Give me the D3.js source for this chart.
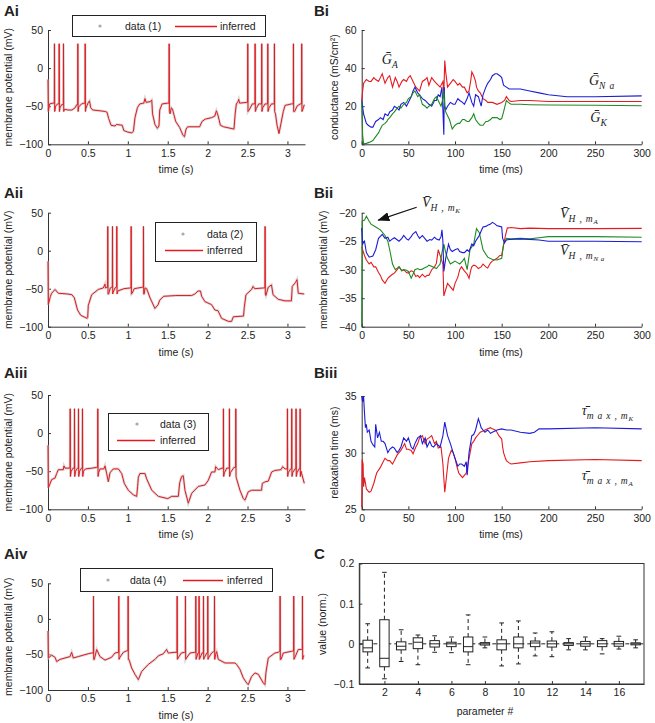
<!DOCTYPE html>
<html>
<head>
<meta charset="utf-8">
<script src="https://cdn.jsdelivr.net/npm/d3@7"></script>
<style>
  body { margin: 0; background: #fff; }
  svg text { font-family: "Liberation Sans", Arial, sans-serif; fill: #222; }
  .tick text { font-size: 10.5px; }
  .domain, .tick line { stroke: #333; }
</style>
</head>
<body>
<div id="fig"></div>
<script>
// ---------- membrane potential traces (time s, mV) ----------
const spikePeak = 32, spikeTrough = -57;

const traceA1 = [[0,-15],[0.004,-57],[0.02,-47],[0.06,-46],[0.095,-50],[0.12,-47],[0.15,-52],[0.17,-48],
  [0.205,-54],[0.25,-55],[0.30,-55],[0.34,-52],[0.36,-48],[0.385,-51],[0.42,-47],[0.45,-46],[0.475,-53],
  [0.50,-46],[0.52,-43],[0.535,-52],[0.56,-55],[0.65,-56],[0.72,-57],[0.74,-58],[0.76,-66],[0.79,-75],
  [0.84,-76],[0.86,-74],[0.93,-75],[0.95,-82],[1.00,-84],[1.05,-85],[1.07,-83],[1.09,-65],[1.12,-52],
  [1.15,-47],[1.20,-46],[1.215,-40],[1.23,-45],[1.28,-44],[1.30,-42],[1.31,-60],[1.34,-74],[1.37,-79],
  [1.39,-76],[1.40,-55],[1.43,-47],[1.50,-46],[1.53,-60],[1.545,-52],[1.56,-54],[1.58,-62],[1.60,-70],
  [1.65,-78],[1.69,-88],[1.71,-90],[1.73,-80],[1.75,-77],[1.90,-77],[1.93,-70],[1.97,-67],[2.05,-65],
  [2.09,-63],[2.11,-56],[2.13,-62],[2.16,-75],[2.20,-77],[2.33,-80],[2.345,-60],[2.36,-47],[2.38,-44],
  [2.39,-41],[2.40,-46],[2.49,-45],[2.52,-55],[2.56,-47],[2.61,-53],[2.64,-47],[2.69,-52],[2.72,-47],
  [2.77,-52],[2.80,-47],[2.85,-60],[2.87,-75],[2.894,-86],[2.92,-72],[2.948,-57],[2.97,-49],[3.05,-47],
  [3.09,-57],[3.12,-50],[3.16,-47],[3.19,-55],[3.211,-48]];
const spikesA1 = [0.079,0.138,0.192,0.372,0.464,1.516,2.501,2.593,2.676,2.752,2.835,3.073,3.177];

const traceA2 = [[0,-14],[0.004,-71],[0.03,-60],[0.046,-56],[0.088,-51],[0.13,-56],[0.25,-57],[0.30,-58],
  [0.33,-62],[0.37,-78],[0.41,-85],[0.49,-89],[0.497,-88],[0.505,-72],[0.547,-58],[0.63,-51],[0.693,-49],
  [0.714,-44],[0.72,-49],[0.74,-48],[0.76,-57],[0.78,-49],[0.80,-48],[0.815,-55],[0.84,-49],[0.855,-48],
  [0.875,-53],[0.95,-50],[1.03,-49],[1.055,-56],[1.08,-50],[1.185,-48],[1.205,-57],[1.215,-49],[1.236,-50],
  [1.278,-62],[1.34,-76],[1.38,-71],[1.40,-65],[1.45,-60],[1.6,-59],[1.8,-59],[1.84,-57],[1.88,-53],
  [1.91,-53],[1.925,-60],[1.967,-67],[2.05,-71],[2.09,-78],[2.13,-79],[2.175,-89],[2.26,-93],[2.30,-93],
  [2.322,-87],[2.45,-86],[2.459,-75],[2.48,-58],[2.55,-51],[2.57,-47],[2.59,-50],[2.70,-49],[2.73,-59],
  [2.76,-48],[2.80,-45],[2.82,-58],[2.885,-64],[2.97,-66],[3.05,-66],[3.06,-47],[3.10,-42],[3.12,-38],
  [3.136,-56],[3.211,-57]];
const spikesA2 = [0.747,0.806,0.860,1.040,1.194,2.718];

const traceA3 = [[0,-16],[0.004,-72],[0.046,-61],[0.088,-59],[0.109,-53],[0.129,-48],[0.192,-48],[0.20,-43],
  [0.213,-46],[0.265,-46],[0.29,-50],[0.315,-46],[0.345,-50],[0.37,-46],[0.395,-50],[0.42,-46],[0.445,-50],
  [0.47,-47],[0.55,-46],[0.61,-45],[0.635,-52],[0.651,-47],[0.70,-47],[0.714,-43],[0.735,-53],[0.756,-64],
  [0.777,-52],[0.818,-47],[0.881,-47],[0.923,-53],[0.956,-66],[1.006,-75],[1.069,-81],[1.111,-83],
  [1.123,-70],[1.132,-58],[1.152,-53],[1.215,-53],[1.236,-60],[1.30,-75],[1.382,-83],[1.50,-86],
  [1.55,-83],[1.633,-83],[1.65,-65],[1.674,-57],[1.695,-56],[1.716,-75],[1.758,-92],[1.80,-79],
  [1.883,-70],[1.967,-68],[2.008,-62],[2.05,-51],[2.092,-51],[2.10,-44],[2.134,-48],[2.18,-46],
  [2.21,-52],[2.24,-46],[2.285,-52],[2.33,-45],[2.363,-60],[2.405,-75],[2.447,-86],[2.468,-88],
  [2.509,-77],[2.551,-75],[2.676,-75],[2.685,-66],[2.718,-64],[2.76,-63],[2.802,-51],[2.843,-49],
  [2.92,-48],[2.94,-44],[2.97,-47],[3.01,-52],[3.04,-47],[3.065,-52],[3.095,-47],[3.12,-52],[3.145,-47],
  [3.17,-50],[3.211,-66]];
const spikesA3 = [0.276,0.330,0.380,0.430,0.622,2.196,2.271,2.351,2.998,3.052,3.106,3.157];

const traceA4 = [[0,-17],[0.004,-55],[0.046,-51],[0.088,-54],[0.109,-60],[0.15,-57],[0.213,-55],[0.276,-53],
  [0.296,-47],[0.317,-55],[0.38,-53],[0.505,-49],[0.547,-48],[0.565,-48],[0.58,-57],[0.61,-43],[0.651,-53],
  [0.714,-58],[0.797,-54],[0.839,-48],[0.88,-47],[0.895,-55],[0.944,-47],[0.985,-45],[0.998,-45],
  [1.015,-57],[1.048,-69],[1.09,-78],[1.132,-85.5],[1.173,-74],[1.215,-69],[1.257,-64],[1.34,-57],
  [1.382,-52],[1.445,-49],[1.486,-43],[1.507,-48],[1.591,-47],[1.63,-55],[1.67,-48],[1.71,-47],
  [1.735,-55],[1.78,-48],[1.84,-47],[1.86,-55],[1.88,-48],[1.90,-56],[1.93,-48],[1.955,-55],[1.99,-48],
  [2.01,-55],[2.05,-48],[2.075,-46],[2.10,-50],[2.113,-46],[2.134,-57],[2.217,-62],[2.342,-62],
  [2.363,-64],[2.405,-71],[2.447,-83],[2.489,-90],[2.509,-92.5],[2.551,-81],[2.593,-76],[2.635,-78],
  [2.697,-90],[2.718,-92.5],[2.731,-75],[2.76,-55],[2.843,-48],[2.885,-47],[2.90,-46],[2.92,-57],
  [2.948,-48],[3.052,-45.6],[3.07,-45],[3.09,-55],[3.136,-43],[3.18,-43],[3.2,-52],[3.211,-52]];
const spikesA4 = [0.568,0.885,1.002,1.616,1.720,1.850,1.891,1.946,2.000,2.084,2.906,3.077,3.186];

// ---------- inferred parameters over time (ms) ----------
const gA = [[0,23],[1,28],[2,32],[5,34],[8,33],[10,33],[13,35],[15,34],[18,33],[20,35],[22,37],[25,32],[28,35],
  [30,36],[33,30],[36,35],[38,33],[40,30],[43,33],[45,34],[48,33],[50,35],[52,36],[55,33],[58,30],[60,29],
  [62,28],[65,33],[68,34],[70,35],[72,31],[75,35],[78,33],[80,32],[84,30],[87,33],[88,27],[89,44],[90,38],
  [92,30],[95,32],[98,34],[100,33],[103,31],[105,32],[108,30],[110,30],[113,27],[115,28],[117,34],[118,38],
  [120,36],[122,33],[123,30],[125,28],[127,27],[130,24],[133,23],[135,22],[140,22],[145,21],[150,22],
  [153,23],[155,25],[158,23],[160,22.5],[170,23],[180,23],[200,22.5],[220,22.5],[250,22.5],[300,22.5]];
const gNa = [[0,23],[2,16],[5,11],[7,10],[10,9],[12,9],[14,11],[15,12],[18,13],[20,14],[23,13],[25,16],[28,15],
  [30,17],[33,18],[35,20],[38,19],[40,18],[42,21],[45,22],[48,20],[50,22],[53,25],[55,28],[57,30],[58,29],
  [60,27],[62,26],[65,24],[68,23],[70,22],[72,21],[75,20],[78,23],[80,23],[82,26],[84,25],[86,30],[87,18],
  [88,5],[88.5,30],[89,20],[90,18],[92,20],[95,22],[98,21],[100,21],[103,24],[105,23],[108,22],[110,21],
  [113,24],[115,27],[118,22],[120,20],[122,26],[125,25],[128,20],[130,26],[133,30],[135,32],[138,34],
  [140,36],[143,37],[145,37],[148,36],[150,35],[152,31],[155,30],[158,29],[160,29],[170,29],[180,28],
  [190,27],[200,26],[210,25.5],[220,25],[250,25],[300,25.4]];
const gK = [[0,22],[1,5],[2,0.3],[5,0.5],[8,1],[10,1.5],[12,2],[15,4],[18,6],[20,8],[22,10],[25,11],[27,12],
  [28,13],[30,14],[33,16],[35,17],[38,19],[40,20],[42,19],[45,21],[48,22],[50,24],[53,25],[55,27],[57,28],
  [60,25],[62,26],[65,21],[68,20],[70,19],[72,20],[75,21],[78,24],[80,25],[83,22],[85,20],[87,24],[88,28],
  [89,20],[90,17],[92,15],[94,13],[97,8],[100,10],[103,11],[105,11],[108,13],[110,13],[113,12],[115,12],
  [118,14],[120,16],[122,13],[125,11],[127,10],[130,10],[133,12],[135,12],[138,13],[140,14],[143,14],
  [145,14],[148,13],[150,13.5],[152,17],[154,21],[155,23],[157,22],[160,21],[170,21],[180,20.8],
  [200,20.6],[250,20.5],[300,20.2]];

const vmA = [[0,-26],[1,-26.5],[3,-27.5],[5,-28.3],[8,-29],[10,-28.7],[13,-29.5],[15,-29.5],[18,-30.5],[20,-31],
  [22,-31.8],[25,-32.4],[28,-31.5],[30,-31.2],[33,-30.8],[35,-30.6],[38,-30],[40,-29.5],[43,-30.2],[45,-30],
  [48,-30.5],[50,-30.6],[53,-30.2],[55,-30.3],[58,-31.2],[60,-31],[62,-31.4],[65,-30.8],[68,-31.3],[70,-31],
  [72,-31],[75,-30],[78,-29.5],[80,-28.9],[82,-26.5],[84,-27.5],[86,-28.5],[87,-29],[88,-34.6],[90,-33.5],
  [92,-32.4],[95,-33],[98,-33.6],[100,-32.4],[103,-31.3],[105,-30],[107,-29.5],[110,-30.2],[113,-30.8],
  [115,-31.5],[117,-30],[118,-29.5],[120,-29.2],[122,-29.3],[125,-29.8],[128,-29.5],[130,-29],[133,-29.5],
  [135,-29.7],[138,-28.8],[140,-28.5],[145,-28],[148,-27.5],[150,-27.5],[152,-25.7],[154,-24],[156,-22.7],
  [160,-22.6],[170,-22.8],[180,-22.7],[200,-22.8],[250,-22.8],[300,-22.75]];
const vmK = [[0,-40],[0.5,-21.5],[3,-21.3],[5,-20.6],[8,-21.5],[10,-22],[15,-22.5],[20,-23],[25,-24],[28,-25],
  [30,-26.5],[33,-29],[36,-30],[40,-29.5],[43,-30.2],[45,-30],[48,-30.1],[50,-30.3],[53,-31.5],[55,-30.8],
  [57,-30],[60,-29.8],[62,-30],[65,-29.9],[67,-29.7],[70,-29.5],[72,-29.2],[76,-29.5],[80,-29.8],[84,-29],
  [86,-27],[88,-25.5],[90,-27],[92,-28],[95,-29],[98,-28.7],[100,-28.5],[103,-28.8],[105,-29],[108,-28.5],
  [110,-28],[113,-30],[116,-26.5],[120,-25.5],[123,-22.8],[126,-23.5],[128,-25],[130,-26.5],[135,-27.8],
  [140,-28.2],[145,-28.3],[150,-28],[152,-25.5],[155,-24.5],[160,-24.6],[170,-24.5],[180,-24.6],
  [190,-24.4],[200,-24.2],[250,-24.2],[300,-24.3]];
const vmNa = [[0,-22.7],[1,-25.5],[3,-25],[5,-27],[8,-27.8],[12,-27.6],[15,-26.5],[18,-24.5],[22,-23.8],
  [25,-24.5],[28,-24.3],[30,-25],[33,-24.6],[35,-24.4],[40,-25],[43,-24.5],[45,-24],[48,-24.6],[50,-24.8],
  [53,-24.2],[55,-23.7],[58,-23.3],[60,-24],[62,-24.5],[65,-24],[68,-24.6],[70,-25],[73,-24.7],[75,-24.8],
  [78,-24.3],[80,-24.6],[83,-24.8],[85,-24.2],[86,-23],[87,-25],[88,-30.3],[90,-28],[93,-25.5],[95,-26.5],
  [97,-26.8],[100,-26.5],[103,-26.3],[105,-26.8],[108,-27],[110,-27],[113,-26.5],[115,-26.8],[118,-25.5],
  [120,-25.8],[122,-25],[124,-24.5],[126,-24],[128,-23.2],[130,-22.5],[133,-22.4],[135,-22.2],[138,-22],
  [140,-21.7],[143,-22],[145,-22.3],[148,-22.4],[150,-22.5],[151,-24.5],[153,-25.3],[155,-24.8],
  [158,-24.7],[170,-24.6],[190,-24.8],[200,-25],[250,-25],[300,-25.1]];

const tauK = [[0,35],[1,34.5],[2,35],[3,33.5],[4,32.2],[5,32.5],[6,31.8],[8,32],[10,31],[12,30.7],[14,30.5],
  [15,32.5],[17,31.3],[19,31.8],[21,31],[23,31],[25,30.8],[28,30],[30,30.3],[33,30.5],[35,30.4],[38,30],
  [40,30.2],[42,30.5],[45,31.3],[48,31],[50,31.3],[53,30.5],[55,30.3],[57,30.8],[60,31.3],[63,31.5],
  [65,30.8],[68,31.3],[70,30.5],[73,31],[75,30.6],[77,30.5],[80,30.8],[84,30.5],[87,31.5],[89,32.7],
  [90,32.3],[92,31.5],[95,30.8],[98,30],[100,29.5],[103,28.8],[105,29],[107,29],[110,28.8],[112,29.2],
  [113,28],[115,30],[118,31.5],[120,31.6],[122,32],[125,33],[127,32.5],[128,32.2],[130,32],[132,31.8],
  [135,32],[138,31.7],[140,31.8],[145,32],[150,32.1],[155,32],[160,32],[170,31.8],[180,31.7],[185,31.8],
  [190,32.1],[200,32.1],[250,32.2],[300,32.1]];
const tauA = [[0,25.2],[0.5,29.4],[1.5,29],[2,27],[3,27.8],[5,26.8],[8,26.5],[10,26.6],[13,27.3],[16,28.2],
  [20,28.7],[23,29.2],[25,29.5],[28,29.3],[30,29.3],[33,29],[35,29.3],[38,29.8],[42,30.2],[44,30.5],
  [46,30.8],[48,30.3],[50,30.3],[53,30.2],[55,29.9],[58,30.5],[60,30.8],[62,31.3],[65,31.5],[68,30.8],
  [70,31.2],[72,31.3],[75,31.5],[78,30.8],[80,31],[82,30.4],[85,30.5],[87,29],[89,26.5],[91,28],[93,29.5],
  [96,30.2],[98,30],[100,29.5],[102,28.8],[104,28.2],[106,28],[108,27.8],[110,28],[112,28.2],[115,29.5],
  [118,30.8],[120,31],[122,31.3],[125,31.6],[127,31.8],[130,31.9],[132,32],[135,32.1],[138,32.2],
  [140,32.1],[143,32],[145,31.8],[147,31.5],[149,31.3],[150,31.2],[151,30.5],[152,30],[154,29.5],
  [155,29.3],[158,29.1],[160,29],[170,29.1],[180,29.2],[200,29.3],[250,29.4],[300,29.3]];

// ---------- box plot of normalised parameter errors ----------
const paramIds = d3.range(1, 18);
const boxQ1 =  [-0.02,-0.057,-0.015,-0.012,-0.008,-0.007,-0.02,-0.003,-0.015,-0.01,-0.007,-0.008,-0.004,-0.006,-0.007,-0.006,-0.0025];
const boxMed = [-0.01,-0.036,-0.006,0.004,0,0,-0.007,0,0,0,0.002,0,0,0,0,0,0];
const boxQ3 =  [0.009,0.06,0.005,0.015,0.008,0.004,0.017,0.003,0.01,0.017,0.007,0.007,0.003,0.006,0.008,0.006,0.0025];
const whiskLo = [-0.06,-0.087,-0.044,-0.052,-0.021,-0.022,-0.052,-0.01,-0.055,-0.05,-0.03,-0.032,-0.015,-0.015,-0.025,-0.013,-0.01];
const whiskHi = [0.05,0.178,0.035,0.022,0.02,0.017,0.072,0.017,0.052,0.057,0.027,0.03,0.013,0.017,0.013,0.019,0.01];

const red = "#e5191e", blue = "#1c1cd8", green = "#1f8a22", dataGray = "#c8c8c8";
const mathFont = '"Liberation Serif","DejaVu Serif",serif';

const svg = d3.select("#fig").append("svg")
    .attr("width", 655)
    .attr("height", 723);

const defs = svg.append("defs");
defs.append("marker")
    .attr("id", "arrow")
    .attr("markerUnits", "userSpaceOnUse")
    .attr("markerWidth", 12).attr("markerHeight", 9)
    .attr("refX", 11).attr("refY", 4.5)
    .attr("orient", "auto")
    .append("path")
    .attr("d", "M0,0 L12,4.5 L0,9 Z")
    .attr("fill", "#111");

// panel letters
[["Ai",4,16],["Aii",4,198],["Aiii",4,378],["Aiv",4,559],["Bi",314,16],["Bii",314,198],["Biii",314,378],["C",314,559]]
    .forEach(([t, x, y]) => svg.append("text").attr("x", x).attr("y", y)
        .style("font-size", "15px").style("font-weight", "bold").text(t));

function yLabel(x, y, text) {
    svg.append("text")
        .attr("transform", `translate(${x},${y}) rotate(-90)`)
        .attr("text-anchor", "middle")
        .style("font-size", "10.5px")
        .text(text);
}

function xLabel(x, y, text) {
    svg.append("text")
        .attr("x", x).attr("y", y)
        .attr("text-anchor", "middle")
        .style("font-size", "10.5px")
        .text(text);
}

// ---------- A panels: voltage traces ----------
const xA = d3.scaleLinear().domain([0, 3.22]).range([48, 305]);

const panelsA = [
    {knots: traceA1, spikes: spikesA1, top: 30, bottom: 144.3, name: "data (1)",
     legend: {x: 72, y: 15, w: 193, h: 21, rows: 1, dot: 100, txt: 125, l1: 175, l2: 217, txt2: 220}},
    {knots: traceA2, spikes: spikesA2, top: 212.7, bottom: 326.7, name: "data (2)",
     legend: {x: 155, y: 222, w: 101, h: 39, rows: 2, dot: 183, txt: 207, l1: 165, l2: 203, txt2: 207}},
    {knots: traceA3, spikes: spikesA3, top: 395, bottom: 509.3, name: "data (3)",
     legend: {x: 108, y: 413, w: 100, h: 37, rows: 2, dot: 137, txt: 160, l1: 117, l2: 155, txt2: 160}},
    {knots: traceA4, spikes: spikesA4, top: 583.3, bottom: 690, name: "data (4)",
     legend: {x: 80, y: 568, w: 192, h: 23, rows: 1, dot: 108, txt: 130, l1: 183, l2: 223, txt2: 227}}
];

panelsA.forEach(p => {
    const y = d3.scaleLinear().domain([-100, 50]).range([p.bottom, p.top]);

    svg.append("g")
        .attr("transform", `translate(0,${p.bottom})`)
        .call(d3.axisBottom(xA).tickValues([0,0.5,1,1.5,2,2.5,3]).tickFormat(d => String(d))
            .tickSizeInner(-3).tickSizeOuter(0).tickPadding(5));
    svg.append("g")
        .attr("transform", `translate(${xA.range()[0]},0)`)
        .call(d3.axisLeft(y).tickValues([-100,-50,0,50]).tickSizeInner(-3).tickSizeOuter(0).tickPadding(5));

    yLabel(12, (p.top + p.bottom) / 2, "membrane potential (mV)");
    xLabel(176, p.bottom + 29, "time (s)");

    // merge sub-threshold knots with spikes: each spike leaves from the last sampled level
    const pts = [];
    const spikes = p.spikes.slice();
    p.knots.forEach(k => {
        while (spikes.length && spikes[0] < k[0]) {
            const s = spikes.shift();
            const last = pts[pts.length - 1];
            pts.push([s, last[1]], [s + 0.002, spikePeak], [s + 0.005, spikeTrough]);
        }
        pts.push(k);
    });
    const line = d3.line().x(d => xA(d[0])).y(d => y(d[1]));

    svg.append("path").datum(pts)
        .attr("fill", "none").attr("stroke", dataGray).attr("stroke-width", 2.6)
        .attr("stroke-opacity", 0.7).attr("d", line);
    svg.append("path").datum(pts)
        .attr("fill", "none").attr("stroke", red).attr("stroke-width", 1).attr("d", line);

    // legend
    const L = p.legend;
    const lg = svg.append("g");
    lg.append("rect").attr("x", L.x + 0.5).attr("y", Math.round(L.y) + 0.5).attr("width", L.w).attr("height", L.h)
        .attr("fill", "#fff").attr("stroke", "#222").attr("stroke-width", 1);
    const r1 = Math.round(L.rows === 1 ? L.y + L.h / 2 : L.y + L.h * 0.3);
    const r2 = Math.round(L.rows === 1 ? r1 : L.y + L.h * 0.72);
    lg.append("circle").attr("cx", L.dot).attr("cy", r1).attr("r", 1.6).attr("fill", "#aaa");
    lg.append("text").attr("x", L.txt).attr("y", r1 + 4).style("font-size", "10.5px").text(p.name);
    lg.append("line").attr("x1", L.l1).attr("x2", L.l2).attr("y1", r2 + 0.5).attr("y2", r2 + 0.5)
        .style("stroke", red).attr("stroke-width", 1.3);
    lg.append("text").attr("x", L.txt2).attr("y", r2 + 4).style("font-size", "10.5px").text("inferred");
});

// ---------- B panels: parameter estimates ----------
const xB = d3.scaleLinear().domain([0, 300]).range([361.7, 641.7]);

function mathLabel(px, py, main, sub, subsub) {
    const t = svg.append("text").attr("x", px).attr("y", py)
        .style("font-family", mathFont).style("font-style", "italic").style("font-size", "14px");
    t.append("tspan").text(main);
    t.append("tspan").attr("dy", 4).style("font-size", "9.5px").style("letter-spacing", "0.8px").text(sub);
    if (subsub) t.append("tspan").attr("dy", 2).style("font-size", "7px").style("letter-spacing", "0.5px").text(subsub);
}

const panelsB = [
    {top: 30, bottom: 144.3, domain: [0, 60], ticks: [0,20,40,60], label: "conductance (mS/cm²)", lx: 338,
     series: [[gA, red], [gNa, blue], [gK, green]]},
    {top: 212.7, bottom: 326.7, domain: [-40, -20], ticks: [-40,-35,-30,-25,-20], label: "membrane potential (mV)", lx: 327,
     series: [[vmA, red], [vmK, green], [vmNa, blue]]},
    {top: 396, bottom: 509.3, domain: [25, 35], ticks: [25,30,35], label: "relaxation time (ms)", lx: 338,
     series: [[tauA, red], [tauK, blue]]}
];

const yBs = panelsB.map(p => {
    const y = d3.scaleLinear().domain(p.domain).range([p.bottom, p.top]);
    svg.append("g")
        .attr("transform", `translate(0,${p.bottom})`)
        .call(d3.axisBottom(xB).tickValues(d3.range(0, 301, 50)).tickSizeInner(-3).tickSizeOuter(0).tickPadding(5));
    svg.append("g")
        .attr("transform", `translate(${xB.range()[0]},0)`)
        .call(d3.axisLeft(y).tickValues(p.ticks).tickSizeInner(-3).tickSizeOuter(0).tickPadding(5));
    yLabel(p.lx, (p.top + p.bottom) / 2, p.label);
    xLabel(501, p.bottom + 29, "time (ms)");

    const line = d3.line().x(d => xB(d[0])).y(d => y(d[1]));
    p.series.forEach(([s, c]) => svg.append("path").datum(s)
        .attr("fill", "none").attr("stroke", c).attr("stroke-width", 1.1).attr("d", line));
    return y;
});

// annotations
mathLabel(xB(21.5), yBs[0](42.2), "Ḡ", "A");
mathLabel(xB(243.5), yBs[0](31.1), "Ḡ", "N a");
mathLabel(xB(245), yBs[0](11.9), "Ḡ", "K");

mathLabel(xB(64.5), yBs[1](-18.95), "V\u0304", "H , m", "K");
mathLabel(xB(212.5), yBs[1](-21.0), "V\u0304", "H , m", "A");
mathLabel(xB(212.5), yBs[1](-27.4), "V\u0304", "H , m", "N a");
svg.append("line")
    .attr("x1", xB(58.9)).attr("y1", yBs[1](-19.05))
    .attr("x2", xB(17.8)).attr("y2", yBs[1](-21.3))
    .attr("stroke", "#111").attr("stroke-width", 1.2)
    .attr("marker-end", "url(#arrow)");

mathLabel(xB(235.7), yBs[2](33.3), "τ\u0304", "m a x , m", "K");
mathLabel(xB(235.7), yBs[2](27.6), "τ\u0304", "m a x , m", "A");

// ---------- C: box plot ----------
const xC = d3.scaleLinear().domain([0.5, 17.5]).range([359.3, 644]);
const yC = d3.scaleLinear().domain([-0.1, 0.2]).range([684, 563.5]);

svg.append("line")
    .attr("x1", xC.range()[0]).attr("x2", xC.range()[1])
    .attr("y1", yC(0)).attr("y2", yC(0))
    .attr("stroke", "#222").attr("stroke-width", 1).attr("stroke-dasharray", "4,3");

svg.append("g")
    .attr("transform", `translate(0,${yC.range()[0]})`)
    .call(d3.axisBottom(xC).tickValues(d3.range(2, 17, 2)).tickSizeInner(-3).tickSizeOuter(0).tickPadding(5));
svg.append("g")
    .attr("transform", `translate(${xC.range()[0]},0)`)
    .call(d3.axisLeft(yC).tickValues([-0.1, 0, 0.1, 0.2]).tickFormat(d => d === 0 ? "0" : d3.format(".1f")(d))
        .tickSizeInner(-3).tickSizeOuter(0).tickPadding(5));
svg.append("rect")
    .attr("x", xC.range()[0]).attr("y", yC.range()[1])
    .attr("width", xC.range()[1] - xC.range()[0]).attr("height", yC.range()[0] - yC.range()[1])
    .attr("fill", "none").attr("stroke", "#333").attr("stroke-width", 1);

yLabel(326, 624, "value (norm.)");
xLabel(485, 715, "parameter #");

const boxHalf = 0.28, capHalf = 0.14;
const boxes = svg.append("g").attr("stroke", "#222").attr("stroke-width", 1).attr("fill", "none");
paramIds.forEach((p, i) => {
    boxes.append("line").attr("x1", xC(p)).attr("x2", xC(p))
        .attr("y1", yC(boxQ3[i])).attr("y2", yC(whiskHi[i])).attr("stroke-dasharray", "4,3");
    boxes.append("line").attr("x1", xC(p)).attr("x2", xC(p))
        .attr("y1", yC(boxQ1[i])).attr("y2", yC(whiskLo[i])).attr("stroke-dasharray", "4,3");
    [whiskHi[i], whiskLo[i]].forEach(w => boxes.append("line")
        .attr("x1", xC(p - capHalf)).attr("x2", xC(p + capHalf))
        .attr("y1", yC(w)).attr("y2", yC(w)));
    boxes.append("rect")
        .attr("x", xC(p - boxHalf)).attr("width", xC(p + boxHalf) - xC(p - boxHalf))
        .attr("y", yC(boxQ3[i])).attr("height", yC(boxQ1[i]) - yC(boxQ3[i]))
        .attr("fill", "#fff");
    boxes.append("line")
        .attr("x1", xC(p - boxHalf)).attr("x2", xC(p + boxHalf))
        .attr("y1", yC(boxMed[i])).attr("y2", yC(boxMed[i]));
});
</script>
</body>
</html>
